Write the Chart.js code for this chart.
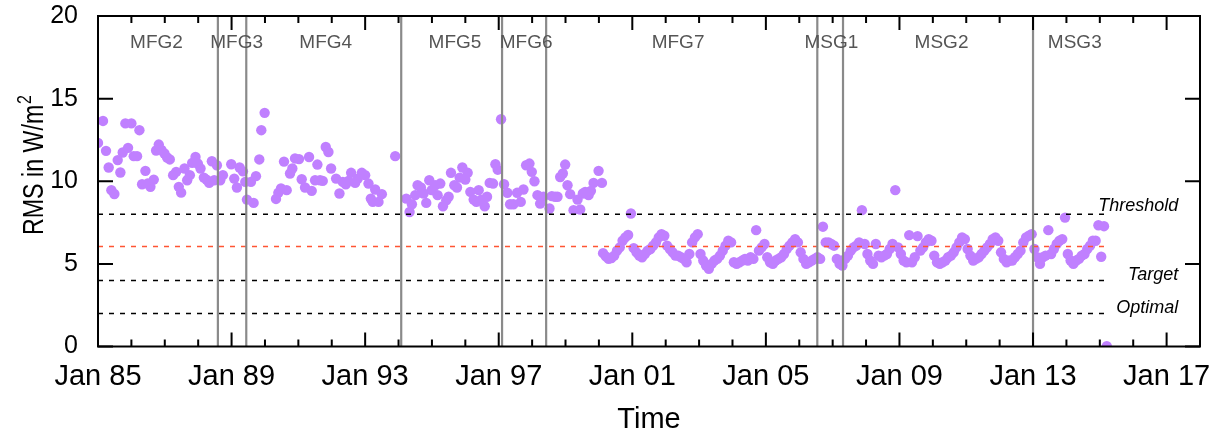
<!DOCTYPE html>
<html lang="en">
<head>
  <meta charset="UTF-8" />
  <title>RMS in W/m2 over time</title>
  <style>
    body { margin: 0; background: #ffffff; }
    #wrap { width: 1214px; height: 437px; position: relative; }
  </style>
  <script src="https://cdn.jsdelivr.net/npm/chart.js"></script>
</head>
<body>
  <div id="wrap"><canvas id="rms-chart"></canvas></div>

  <script>
    // MFG era: irregular samples (decimal year, RMS)
    const mfgTime = [
      1985.00, 1985.15, 1985.24, 1985.32, 1985.40, 1985.49, 1985.59, 1985.67, 1985.74, 1985.82, 1985.90,
      1986.00, 1986.07, 1986.17, 1986.24, 1986.32, 1986.42, 1986.49, 1986.57, 1986.67, 1986.74, 1986.82, 1986.90, 1986.99,
      1987.07, 1987.15, 1987.25, 1987.34, 1987.42, 1987.49, 1987.59, 1987.67, 1987.75, 1987.82, 1987.92, 1987.99,
      1988.07, 1988.17, 1988.25, 1988.33, 1988.41, 1988.48, 1988.56, 1988.66, 1988.74, 1988.99,
      1989.08, 1989.16, 1989.24, 1989.34, 1989.41, 1989.46, 1989.58, 1989.66, 1989.73, 1989.83, 1989.89, 1989.99,
      1990.33, 1990.40, 1990.48, 1990.57, 1990.65, 1990.75, 1990.82, 1990.90,
      1991.02, 1991.10, 1991.20, 1991.32, 1991.40, 1991.50, 1991.57, 1991.65, 1991.73, 1991.82, 1991.90, 1991.98,
      1992.13, 1992.23, 1992.33, 1992.42, 1992.50, 1992.58, 1992.70, 1992.78, 1992.90,
      1993.00, 1993.10, 1993.17, 1993.23, 1993.30, 1993.40, 1993.50, 1993.90,
      1994.23, 1994.33, 1994.40, 1994.50, 1994.57, 1994.67, 1994.75, 1994.83, 1994.92, 1994.99,
      1995.10, 1995.17, 1995.25, 1995.33, 1995.43, 1995.50, 1995.57, 1995.67, 1995.75, 1995.83, 1995.91,
      1996.00, 1996.07, 1996.15, 1996.25, 1996.33, 1996.40, 1996.48, 1996.58, 1996.65, 1996.73, 1996.83, 1996.90, 1996.97,
      1997.07, 1997.16, 1997.26, 1997.34, 1997.44, 1997.55, 1997.66, 1997.74, 1997.82, 1997.92, 1997.99,
      1998.07, 1998.16, 1998.24, 1998.34, 1998.52, 1998.59, 1998.69, 1998.76, 1998.84, 1998.92, 1998.99,
      1999.06, 1999.14, 1999.24, 1999.36, 1999.44, 1999.52, 1999.59, 1999.69, 1999.76, 1999.84, 1999.99,
      2000.09
    ];
    const mfgRms = [
      12.32, 13.65, 11.84, 10.83, 9.46, 9.23, 11.28, 10.53, 11.74, 13.50, 12.02,
      13.50, 11.52, 11.52, 13.09, 9.82, 10.63, 9.86, 9.66, 10.10, 11.86, 12.22, 11.90, 11.68,
      11.44, 11.32, 10.37, 10.57, 9.66, 9.31, 10.77, 10.06, 10.37, 11.11, 11.47, 11.07,
      10.77, 10.22, 10.10, 9.90, 11.21, 10.06, 10.97, 10.06, 10.37, 11.03,
      10.16, 9.62, 10.83, 10.60, 9.96, 8.89, 9.96, 8.69, 10.31, 11.32, 13.09, 14.14,
      8.93, 9.30, 9.56, 11.19, 9.46, 10.47, 10.77, 11.38,
      11.34, 10.12, 9.62, 11.47, 9.42, 10.06, 11.01, 10.06, 10.02, 12.07, 11.77, 10.77,
      10.16, 9.26, 9.96, 9.82, 10.02, 10.51, 9.90, 10.16, 10.51,
      10.37, 9.86, 8.95, 8.75, 9.50, 8.75, 9.22, 11.52,
      8.95, 8.14, 8.61, 9.16, 9.76, 9.62, 9.26, 8.69, 10.06, 9.46,
      9.76, 9.16, 9.86, 8.49, 8.85, 9.06, 10.51, 9.76, 9.62, 10.22, 10.83,
      10.10, 10.51, 9.36, 8.89, 8.75, 9.46, 8.89, 8.49, 9.06, 9.90, 9.86, 11.03, 10.70,
      13.75, 9.82, 9.30, 8.61, 8.61, 9.30, 8.75, 9.50, 10.97, 11.07, 10.57,
      10.00, 9.16, 8.65, 9.06, 8.35, 9.10, 9.06, 9.06, 10.26, 10.47, 11.01,
      9.76, 9.22, 8.25, 8.89, 8.29, 9.26, 9.36, 9.16, 9.42, 9.90, 10.63,
      9.90
    ];

    // later era: monthly values, Jan..Dec per year (null = no sample)
    const msgYears = [2000, 2001, 2002, 2003, 2004, 2005, 2006, 2007, 2008, 2009, 2010, 2011, 2012, 2013, 2014, 2015];
    const msgRms = [
      [null, 5.65, 5.45, 5.30, 5.35, 5.50, 5.80, 6.00, 6.40, 6.60, 6.75, 8.05],
      [5.95, 5.70, 5.50, 5.40, 5.60, 5.80, 5.90, 6.10, 6.30, 6.60, 6.80, 6.70],
      [6.10, 5.90, 5.70, 5.50, 5.50, 5.40, 5.30, 5.10, 5.60, 6.30, 6.60, 6.80],
      [5.60, 5.20, 4.90, 4.70, 5.00, 5.20, 5.30, 5.50, 5.80, 6.10, 6.40, 6.30],
      [5.10, 5.00, 5.10, 5.20, 5.30, 5.20, 5.40, 5.30, 7.04, 5.80, 6.00, 6.20],
      [5.40, 5.10, 5.00, 5.20, 5.30, 5.40, 5.60, 5.90, 6.10, 6.30, 6.50, 6.30],
      [5.70, 5.30, 5.00, 5.10, 5.20, 5.30, 5.40, 5.30, 7.25, 6.30, 6.30, 6.20],
      [6.10, 5.30, 5.00, 4.90, 5.30, 5.50, 5.80, 6.00, 6.10, 6.30, 8.25, 6.20],
      [5.60, 5.20, 5.00, 6.20, 5.50, 5.40, 5.50, 5.60, 5.90, 6.20, 9.46, 6.00],
      [5.60, 5.20, 5.10, 6.74, 5.10, 5.40, 6.68, 5.80, 6.00, 6.30, 6.50, 6.40],
      [5.50, 5.10, 5.00, 5.10, 5.20, 5.40, 5.50, 5.70, 6.00, 6.30, 6.60, 6.50],
      [5.90, 5.50, 5.20, 5.30, 5.40, 5.60, 5.80, 6.00, 6.20, 6.50, 6.60, 6.40],
      [5.70, 5.30, 5.10, 5.20, 5.20, 5.40, 5.60, 5.80, 6.30, 6.60, 6.70, 6.80],
      [5.90, 5.40, 5.00, 5.40, 5.50, 7.04, 5.60, 5.90, 6.20, 6.40, 6.50, 7.80],
      [5.60, 5.20, 5.00, 5.20, 5.30, 5.50, 5.60, 5.90, 6.10, 6.40, 6.40, 7.34],
      [5.43, 7.28, 0.02]
    ];

    // satellite periods
    const satNames = ['MFG2', 'MFG3', 'MFG4', 'MFG5', 'MFG6', 'MFG7', 'MSG1', 'MSG2', 'MSG3'];
    const satLabelYear = [1986.75, 1989.15, 1991.82, 1995.69, 1997.82, 2002.37, 2006.96, 2010.26, 2014.25];
    const satSwitchYear = [1988.59, 1989.44, 1994.08, 1997.10, 1998.42, 2006.54, 2007.31, 2013.00];

    // reference levels
    const refNames = ['Threshold', 'Target', 'Optimal'];
    const refLevels = [8, 4, 2];
    const meanLevel = 6.05;
    const refLineEnd = 2015.25;

    const xLabelYears = [1985, 1989, 1993, 1997, 2001, 2005, 2009, 2013, 2017];
    const yTicks = [0, 5, 10, 15, 20];

    const FONT = '"Liberation Sans", Arial, sans-serif';

    const points = mfgTime.map((t, i) => ({ x: t, y: mfgRms[i] }));
    msgYears.forEach((yr, i) => {
      msgRms[i].forEach((v, m) => {
        if (v !== null) points.push({ x: yr + (m + 0.5) / 12, y: v });
      });
    });

    const datasets = [{
      label: 'RMS',
      data: points,
      backgroundColor: 'rgb(192,128,255)',
      borderWidth: 0,
      pointRadius: 5.2,
      order: 3
    }];

    satSwitchYear.forEach(t => {
      datasets.push({
        data: [{ x: t, y: 0 }, { x: t, y: 20 }],
        showLine: true, borderColor: '#8a8a8a', borderWidth: 2.2, pointRadius: 0, order: 1
      });
    });
    refLevels.forEach(v => {
      datasets.push({
        data: [{ x: 1985, y: v }, { x: refLineEnd, y: v }],
        showLine: true, borderColor: '#000', borderWidth: 1.5, borderDash: [5, 6], pointRadius: 0, order: 2
      });
    });
    datasets.push({
      data: [{ x: 1985, y: meanLevel }, { x: refLineEnd, y: meanLevel }],
      showLine: true, borderColor: '#ff5533', borderWidth: 1.5, borderDash: [5, 6], pointRadius: 0, order: 2
    });

    const framePlugin = {
      id: 'frame',
      afterDatasetsDraw(chart) {
        const { ctx, chartArea: a, scales: { x, y } } = chart;
        ctx.save();
        ctx.strokeStyle = '#000';
        ctx.lineWidth = 2;
        ctx.beginPath();
        for (let yr = 1986; yr < 2018; yr++) {
          const px = x.getPixelForValue(yr);
          const len = xLabelYears.includes(yr) ? 14 : 7;
          ctx.moveTo(px, a.bottom); ctx.lineTo(px, a.bottom - len);
          ctx.moveTo(px, a.top); ctx.lineTo(px, a.top + len);
        }
        yTicks.forEach(v => {
          const py = y.getPixelForValue(v);
          ctx.moveTo(a.left, py); ctx.lineTo(a.left + 15, py);
          ctx.moveTo(a.right, py); ctx.lineTo(a.right - 15, py);
        });
        ctx.stroke();
        ctx.strokeRect(a.left, a.top, a.right - a.left, a.bottom - a.top);

        // satellite names
        ctx.fillStyle = '#555';
        ctx.font = '19px ' + FONT;
        ctx.textAlign = 'center';
        ctx.textBaseline = 'middle';
        satNames.forEach((n, i) => {
          ctx.fillText(n, x.getPixelForValue(satLabelYear[i]), y.getPixelForValue(18.4));
        });

        // level names
        ctx.fillStyle = '#000';
        ctx.font = 'italic 18px ' + FONT;
        ctx.textAlign = 'right';
        ctx.textBaseline = 'alphabetic';
        const labelOffset = [0.2, 0, 0];
        refNames.forEach((n, i) => {
          ctx.fillText(n, x.getPixelForValue(2017.35), y.getPixelForValue(refLevels[i] + labelOffset[i]));
        });

        // y axis title with a real superscript
        ctx.translate(43, y.getPixelForValue(6.75));
        ctx.rotate(-Math.PI / 2);
        ctx.scale(0.8, 1);
        ctx.textAlign = 'left';
        ctx.font = '29px ' + FONT;
        const main = 'RMS in W/m';
        ctx.fillText(main, 0, 0);
        const w = ctx.measureText(main).width;
        ctx.font = '20px ' + FONT;
        ctx.fillText('2', w + 1, -12);
        ctx.restore();
      }
    };

    new Chart(document.getElementById('rms-chart'), {
      type: 'scatter',
      data: { datasets },
      options: {
        responsive: true,
        maintainAspectRatio: false,
        animation: false,
        layout: { padding: { left: 0, right: 14, top: 16, bottom: 0 } },
        plugins: { legend: { display: false }, tooltip: { enabled: false } },
        scales: {
          x: {
            type: 'linear', min: 1985, max: 2018,
            afterBuildTicks: s => { s.ticks = xLabelYears.map(v => ({ value: v })); },
            afterFit: s => { s.height = 90.5; s.paddingLeft = 0; s.paddingRight = 0; },
            grid: { display: false, drawTicks: false },
            border: { display: false },
            ticks: {
              autoSkip: false, maxRotation: 0, padding: 13, color: '#000',
              font: { family: FONT, size: 29 },
              callback: v => 'Jan ' + String(v % 100).padStart(2, '0')
            },
            title: {
              display: true, text: 'Time', color: '#000',
              font: { family: FONT, size: 29 },
              padding: { top: 0, bottom: 0 }
            }
          },
          y: {
            min: 0, max: 20,
            afterBuildTicks: s => { s.ticks = yTicks.map(v => ({ value: v })); },
            afterFit: s => { s.width = 98; s.paddingTop = 0; s.paddingBottom = 0; },
            grid: { display: false, drawTicks: false },
            border: { display: false },
            ticks: {
              padding: 20, color: '#000',
              font: { family: FONT, size: 25 }
            }
          }
        }
      },
      plugins: [framePlugin]
    });
  </script>
</body>
</html>
